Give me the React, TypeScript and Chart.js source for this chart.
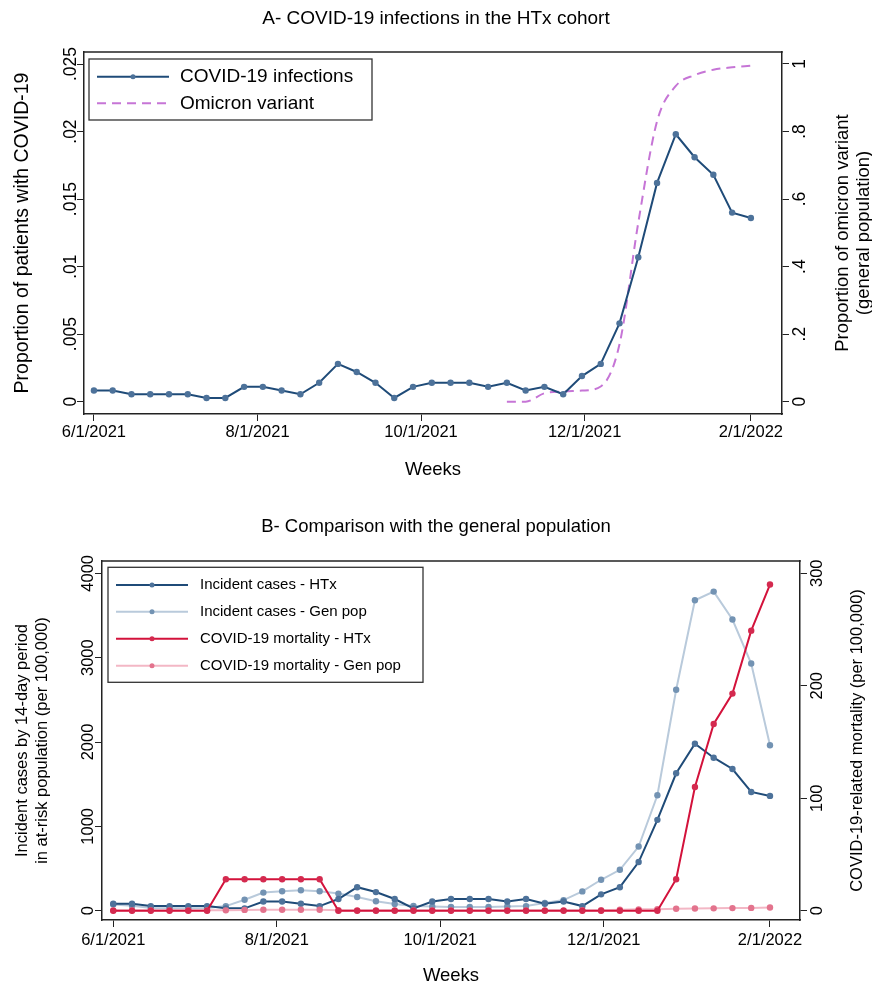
import React, { useEffect, useRef } from 'react';
import { Chart, registerables } from 'chart.js';

Chart.register(...registerables);

const FONT = '"Liberation Sans", Arial, Helvetica, sans-serif';

// ---- Data (weekly observations starting 6/1/2021) ----
const xTickLabels = ['6/1/2021', '8/1/2021', '10/1/2021', '12/1/2021', '2/1/2022'];
const xTickDays = [0, 61, 122, 183, 245];

// Panel A
const htxProportion = [
  0.00083, 0.00083, 0.00055, 0.00055, 0.00055, 0.00055, 0.00028, 0.00028, 0.0011, 0.0011,
  0.00083, 0.00055, 0.0014, 0.0028, 0.0022, 0.0014, 0.00028, 0.0011, 0.0014, 0.0014,
  0.0014, 0.0011, 0.0014, 0.00083, 0.0011, 0.00055, 0.0019, 0.0028, 0.0058, 0.0107,
  0.0162, 0.0198, 0.0181, 0.0168, 0.014, 0.0136,
];
const omicronProportion = [
  null, null, null, null, null, null, null, null, null, null,
  null, null, null, null, null, null, null, null, null, null,
  null, null, 0, 0, 0.025, 0.03, 0.033, 0.045, 0.17, 0.53,
  0.83, 0.935, 0.967, 0.983, 0.99, 0.995,
];
const propTicks = [0, 0.005, 0.01, 0.015, 0.02, 0.025];
const propTickLabels = ['0', '.005', '.01', '.015', '.02', '.025'];
const omicronTicks = [0, 0.2, 0.4, 0.6, 0.8, 1];
const omicronTickLabels = ['0', '.2', '.4', '.6', '.8', '1'];

// Panel B
const htxIncidence = [
  83, 83, 55, 55, 55, 55, 28, 28, 110, 110,
  83, 55, 139, 279, 221, 139, 28, 110, 139, 139,
  139, 110, 139, 83, 110, 55, 194, 279, 577, 1077,
  1629, 1980, 1814, 1680, 1408, 1361,
];
const genPopIncidence = [
  75, 60, 32, 30, 30, 32, 55, 130, 215, 231,
  243, 231, 203, 162, 112, 81, 56, 51, 44, 44,
  45, 50, 55, 91, 126, 229, 367, 485, 761, 1369,
  2619, 3680, 3783, 3452, 2931, 1961,
];
const htxMortality = [
  0, 0, 0, 0, 0, 0, 28, 28, 28, 28,
  28, 28, 0, 0, 0, 0, 0, 0, 0, 0,
  0, 0, 0, 0, 0, 0, 0, 0, 0, 0,
  28, 110, 166, 193, 249, 290,
];
const genPopMortality = [
  0.3, 0.3, 0.3, 0.3, 0.3, 0.3, 0.3, 0.7, 0.8, 0.8,
  0.8, 0.8, 0.5, 0.3, 0.3, 0.3, 0.3, 0.3, 0.3, 0.3,
  0.3, 0.3, 0.3, 0.3, 0.3, 0.4, 0.5, 0.8, 1.2, 1.4,
  1.8, 1.9, 2.1, 2.3, 2.5, 2.8,
];
const incTicks = [0, 1000, 2000, 3000, 4000];
const incTickLabels = ['0', '1000', '2000', '3000', '4000'];
const mortTicks = [0, 100, 200, 300];
const mortTickLabels = ['0', '100', '200', '300'];

// ---- Styles ----
const NAVY = '#1f4b78';
const NAVY_MARK = '#4d729a';
const LIGHT = '#b9cadb';
const LIGHT_MARK = '#7393b3';
const RED = '#d3123b';
const RED_MARK = '#d42a4f';
const PINK = '#f3b7c5';
const PINK_MARK = '#e3738d';
const OMICRON = '#c675d6';
const AXIS = '#222';

const toPoints = (arr: (number | null)[]) => arr.map((v, i) => ({ x: i * 7, y: v }));

function xScale(min: number, max: number, height: number, pad: number) {
  return {
    type: 'linear',
    position: 'bottom',
    min,
    max,
    afterBuildTicks: (s: any) => {
      s.ticks = xTickDays.map((v) => ({ value: v }));
    },
    ticks: {
      display: true,
      autoSkip: false,
      maxRotation: 0,
      minRotation: 0,
      padding: pad,
      color: '#000',
      font: { family: FONT, size: 16.5 },
      callback: (_v: any, i: number) => xTickLabels[i],
    },
    grid: { display: true, drawOnChartArea: false, drawTicks: true, tickLength: 7, color: AXIS, lineWidth: 1 },
    border: { display: true, color: AXIS, width: 1.5 },
    afterFit: (s: any) => {
      s.height = height;
    },
  };
}

function yScale(position: string, min: number, max: number, ticks: number[], width: number) {
  return {
    type: 'linear',
    position,
    min,
    max,
    afterBuildTicks: (s: any) => {
      s.ticks = ticks.map((v) => ({ value: v }));
    },
    ticks: { display: false },
    grid: { display: true, drawOnChartArea: false, drawTicks: true, tickLength: 7, color: AXIS, lineWidth: 1 },
    border: { display: true, color: AXIS, width: 1.5 },
    afterFit: (s: any) => {
      s.width = width;
    },
  };
}

type LegendEntry = { label: string; color: string; mark?: string; dash?: number[]; width: number };
type Decor = {
  title: { text: string; x: number; y: number; size: number };
  xTitle: { text: string; y: number; size: number };
  leftTitle: { lines: { text: string; x: number }[]; size: number };
  rightTitle: { lines: { text: string; x: number }[]; size: number };
  leftTicks: { scale: string; values: number[]; labels: string[]; baseX: number };
  rightTicks: { scale: string; values: number[]; labels: string[]; baseX: number };
  tickSize: number;
  legend: {
    box: [number, number, number, number];
    rows: number[];
    lineX: [number, number];
    markX: number;
    textX: number;
    size: number;
    entries: LegendEntry[];
  };
};

function rotatedText(ctx: CanvasRenderingContext2D, text: string, x: number, y: number, baseline: CanvasTextBaseline) {
  ctx.save();
  ctx.translate(x, y);
  ctx.rotate(-Math.PI / 2);
  ctx.textAlign = 'center';
  ctx.textBaseline = baseline;
  ctx.fillText(text, 0, 0);
  ctx.restore();
}

function decorPlugin(d: Decor) {
  return {
    id: 'decor',
    afterDraw(chart: any) {
      const ctx: CanvasRenderingContext2D = chart.ctx;
      const a = chart.chartArea;
      ctx.save();
      // top frame line
      ctx.strokeStyle = AXIS;
      ctx.lineWidth = 1.5;
      ctx.beginPath();
      ctx.moveTo(a.left - 0.75, a.top);
      ctx.lineTo(a.right + 0.75, a.top);
      ctx.stroke();

      ctx.fillStyle = '#000';
      // title
      ctx.font = `${d.title.size}px ${FONT}`;
      ctx.textAlign = 'center';
      ctx.textBaseline = 'middle';
      ctx.fillText(d.title.text, d.title.x, d.title.y);
      // x title
      ctx.font = `${d.xTitle.size}px ${FONT}`;
      ctx.fillText(d.xTitle.text, (a.left + a.right) / 2, d.xTitle.y);
      // y titles
      const midY = (a.top + a.bottom) / 2;
      ctx.font = `${d.leftTitle.size}px ${FONT}`;
      d.leftTitle.lines.forEach((l) => rotatedText(ctx, l.text, l.x, midY, 'middle'));
      ctx.font = `${d.rightTitle.size}px ${FONT}`;
      d.rightTitle.lines.forEach((l) => rotatedText(ctx, l.text, l.x, midY, 'middle'));
      // rotated tick labels
      ctx.font = `${d.tickSize}px ${FONT}`;
      [d.leftTicks, d.rightTicks].forEach((t) => {
        const sc = chart.scales[t.scale];
        t.values.forEach((v, i) => {
          rotatedText(ctx, t.labels[i], t.baseX, sc.getPixelForValue(v), 'alphabetic');
        });
      });

      // legend
      const L = d.legend;
      const [x1, y1, x2, y2] = L.box;
      ctx.fillStyle = '#fff';
      ctx.fillRect(x1, y1, x2 - x1, y2 - y1);
      ctx.strokeStyle = '#333';
      ctx.lineWidth = 1.3;
      ctx.strokeRect(x1, y1, x2 - x1, y2 - y1);
      L.entries.forEach((e, i) => {
        const y = L.rows[i];
        ctx.save();
        ctx.strokeStyle = e.color;
        ctx.lineWidth = e.width;
        ctx.setLineDash(e.dash || []);
        ctx.beginPath();
        ctx.moveTo(L.lineX[0], y);
        ctx.lineTo(L.lineX[1], y);
        ctx.stroke();
        ctx.restore();
        if (e.mark) {
          ctx.fillStyle = e.mark;
          ctx.beginPath();
          ctx.arc(L.markX, y, 2.5, 0, Math.PI * 2);
          ctx.fill();
        }
        ctx.fillStyle = '#000';
        ctx.font = `${L.size}px ${FONT}`;
        ctx.textAlign = 'left';
        ctx.textBaseline = 'middle';
        ctx.fillText(e.label, L.textX, y);
      });
      ctx.restore();
    },
  };
}

const lineDs = (label: string, data: (number | null)[], axis: string, color: string, mark: string, order: number, width = 2) => ({
  label,
  data: toPoints(data),
  yAxisID: axis,
  borderColor: color,
  backgroundColor: mark,
  pointBackgroundColor: mark,
  pointBorderWidth: 0,
  pointRadius: 3.2,
  borderWidth: width,
  tension: 0,
  order,
});

function configA(): any {
  return {
    type: 'line',
    data: {
      datasets: [
        lineDs('COVID-19 infections', htxProportion, 'y', NAVY, NAVY_MARK, 0),
        {
          label: 'Omicron variant',
          data: toPoints(omicronProportion),
          yAxisID: 'y1',
          borderColor: OMICRON,
          borderDash: [9, 6],
          borderWidth: 2,
          pointRadius: 0,
          cubicInterpolationMode: 'monotone',
          order: 1,
        },
      ],
    },
    options: {
      responsive: false,
      animation: false,
      events: [],
      layout: { padding: { top: 52, left: 0, right: 0, bottom: 0 } },
      plugins: { legend: { display: false }, tooltip: { enabled: false }, title: { display: false } },
      scales: {
        x: xScale(-3.7, 256.6, 79, 2),
        y: yScale('left', -0.00091, 0.02589, propTicks, 84),
        y1: yScale('right', -0.0364, 1.0355, omicronTicks, 90),
      },
    },
    plugins: [
      decorPlugin({
        title: { text: 'A- COVID-19 infections in the HTx cohort', x: 436, y: 18.5, size: 19 },
        xTitle: { text: 'Weeks', y: 470, size: 18.5 },
        leftTitle: { lines: [{ text: 'Proportion of patients with COVID-19', x: 23 }], size: 19.5 },
        rightTitle: {
          lines: [
            { text: 'Proportion of omicron variant', x: 843 },
            { text: '(general population)', x: 864 },
          ],
          size: 18.5,
        },
        leftTicks: { scale: 'y', values: propTicks, labels: propTickLabels, baseX: 76 },
        rightTicks: { scale: 'y1', values: omicronTicks, labels: omicronTickLabels, baseX: 805 },
        tickSize: 17.5,
        legend: {
          box: [89, 59, 372, 120],
          rows: [76.7, 103.3],
          lineX: [97, 169],
          markX: 133,
          textX: 180,
          size: 19,
          entries: [
            { label: 'COVID-19 infections', color: NAVY, mark: NAVY_MARK, width: 2 },
            { label: 'Omicron variant', color: OMICRON, dash: [9, 6], width: 2 },
          ],
        },
      }),
    ],
  };
}

function configB(): any {
  return {
    type: 'line',
    data: {
      datasets: [
        lineDs('COVID-19 mortality - HTx', htxMortality, 'y1', RED, RED_MARK, 0),
        lineDs('COVID-19 mortality - Gen pop', genPopMortality, 'y1', PINK, PINK_MARK, 1),
        lineDs('Incident cases - HTx', htxIncidence, 'y', NAVY, NAVY_MARK, 2),
        lineDs('Incident cases - Gen pop', genPopIncidence, 'y', LIGHT, LIGHT_MARK, 3),
      ],
    },
    options: {
      responsive: false,
      animation: false,
      events: [],
      layout: { padding: { top: 68, left: 0, right: 0, bottom: 0 } },
      plugins: { legend: { display: false }, tooltip: { enabled: false }, title: { display: false } },
      scales: {
        x: xScale(-4.2, 256.2, 66, 4),
        y: yScale('left', -110, 4146, incTicks, 102),
        y1: yScale('right', -8.26, 310.9, mortTicks, 72),
      },
    },
    plugins: [
      decorPlugin({
        title: { text: 'B- Comparison with the general population', x: 436, y: 34, size: 18.5 },
        xTitle: { text: 'Weeks', y: 483, size: 18.5 },
        leftTitle: {
          lines: [
            { text: 'Incident cases by 14-day period', x: 22 },
            { text: 'in at-risk population (per 100,000)', x: 42 },
          ],
          size: 16.5,
        },
        rightTitle: { lines: [{ text: 'COVID-19-related mortality (per 100,000)', x: 857 }], size: 16.5 },
        leftTicks: { scale: 'y', values: incTicks, labels: incTickLabels, baseX: 93 },
        rightTicks: { scale: 'y1', values: mortTicks, labels: mortTickLabels, baseX: 821.5 },
        tickSize: 16.5,
        legend: {
          box: [108, 74.3, 423, 189.3],
          rows: [92, 118.7, 145.7, 172.7],
          lineX: [116, 188],
          markX: 152,
          textX: 200,
          size: 15,
          entries: [
            { label: 'Incident cases - HTx', color: NAVY, mark: NAVY_MARK, width: 2 },
            { label: 'Incident cases - Gen pop', color: LIGHT, mark: LIGHT_MARK, width: 2 },
            { label: 'COVID-19 mortality - HTx', color: RED, mark: RED_MARK, width: 2 },
            { label: 'COVID-19 mortality - Gen pop', color: PINK, mark: PINK_MARK, width: 2 },
          ],
        },
      }),
    ],
  };
}

function Panel({ make, top, height }: { make: () => any; top: number; height: number }) {
  const ref = useRef<HTMLCanvasElement>(null);
  useEffect(() => {
    const chart = new Chart(ref.current as HTMLCanvasElement, make());
    return () => chart.destroy();
  }, [make]);
  return (
    <div style={{ position: 'absolute', left: 0, top, width: 872, height }}>
      <canvas ref={ref} width={872} height={height} style={{ display: 'block', width: 872, height }} />
    </div>
  );
}

export default function App() {
  return (
    <div style={{ position: 'absolute', left: 0, top: 0, width: 872, height: 986, background: '#fff' }}>
      <Panel make={configA} top={0} height={493} />
      <Panel make={configB} top={493} height={493} />
    </div>
  );
}
